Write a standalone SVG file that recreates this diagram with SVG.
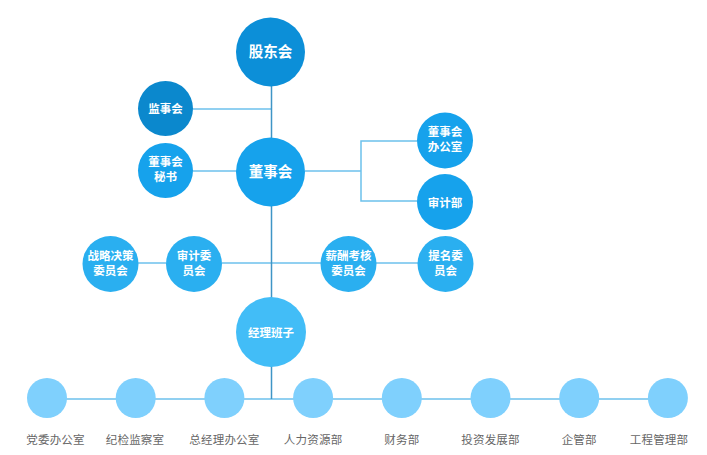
<svg xmlns="http://www.w3.org/2000/svg" width="707" height="455" viewBox="0 0 707 455">
<style>
.ln{stroke:#6cc1ec;stroke-width:1.5;fill:none}
.lm{stroke:#3f95c6;stroke-width:1.5;fill:none}
.t{font-family:"Noto Sans CJK SC","Noto Sans",sans-serif;fill:#fff;font-weight:bold;text-anchor:middle}
.t14{font-size:14.5px}
.t12{font-size:11.5px}
.lb{font-family:"Noto Sans CJK SC","Noto Sans",sans-serif;fill:#666;font-size:11.5px;text-anchor:middle;letter-spacing:0.2px}
.c0{fill:#0c8fd8}.c1{fill:#0b88cd}.c2{fill:#16a2ec}.c3{fill:#2aaff0}.c4{fill:#42bdf7}.c5{fill:#7fd0fd}
</style>
<rect width="707" height="455" fill="#fff"/>
<g id="connectors">
<line class="ln" x1="193" y1="109" x2="271" y2="109"/>
<line class="ln" x1="193" y1="171" x2="271" y2="171"/>
<polyline class="ln" points="305,171 361,171"/>
<polyline class="ln" points="417,141 361,141 361,201 417,201"/>
<line class="ln" x1="138" y1="263" x2="166" y2="263"/>
<line class="ln" x1="222" y1="263" x2="321" y2="263"/>
<line class="ln" x1="376" y1="263" x2="418" y2="263"/>
<line class="ln" x1="47" y1="399" x2="668" y2="399"/>
<line class="lm" x1="271.5" y1="86" x2="271.5" y2="399"/>
</g>
<g id="n-gudonghui"><circle class="c0" cx="270.5" cy="52" r="34.5"/><text class="t t14" x="270.5" y="57">股东会</text></g>
<g id="n-jianshihui"><circle class="c1" cx="165.5" cy="108.5" r="27.5"/><text class="t t12" x="165.5" y="113">监事会</text></g>
<g id="n-dongshihui"><circle class="c2" cx="270.5" cy="172" r="34.5"/><text class="t t14" x="270.5" y="177">董事会</text></g>
<g id="n-mishu"><circle class="c2" cx="165.5" cy="170.5" r="27.5"/><text class="t t12" x="165.5" y="166">董事会</text><text class="t t12" x="165.5" y="181">秘书</text></g>
<g id="n-bangongshi"><circle class="c2" cx="445" cy="140.5" r="28"/><text class="t t12" x="445" y="136">董事会</text><text class="t t12" x="445" y="151">办公室</text></g>
<g id="n-shenjibu"><circle class="c2" cx="445" cy="202" r="28"/><text class="t t12" x="445" y="206.5">审计部</text></g>
<g id="n-zhanlue"><circle class="c3" cx="110.5" cy="264" r="28"/><text class="t t12" x="110.5" y="259.5">战略决策</text><text class="t t12" x="110.5" y="274.5">委员会</text></g>
<g id="n-shenjiwei"><circle class="c3" cx="194" cy="264" r="28"/><text class="t t12" x="194" y="259.5">审计委</text><text class="t t12" x="194" y="274.5">员会</text></g>
<g id="n-xinchou"><circle class="c3" cx="348.5" cy="264" r="28"/><text class="t t12" x="348.5" y="259.5">薪酬考核</text><text class="t t12" x="348.5" y="274.5">委员会</text></g>
<g id="n-timing"><circle class="c3" cx="445.5" cy="264" r="28"/><text class="t t12" x="445.5" y="259.5">提名委</text><text class="t t12" x="445.5" y="274.5">员会</text></g>
<g id="n-jingli"><circle class="c4" cx="271" cy="332" r="35"/><text class="t t12" x="271" y="336.5">经理班子</text></g>
<g id="n-b1"><circle class="c5" cx="47" cy="398" r="20"/><text class="lb" x="55.5" y="444">党委办公室</text></g>
<g id="n-b2"><circle class="c5" cx="135.7" cy="398" r="20"/><text class="lb" x="135" y="444">纪检监察室</text></g>
<g id="n-b3"><circle class="c5" cx="224.4" cy="398" r="20"/><text class="lb" x="224.4" y="444">总经理办公室</text></g>
<g id="n-b4"><circle class="c5" cx="313.1" cy="398" r="20"/><text class="lb" x="313.1" y="444">人力资源部</text></g>
<g id="n-b5"><circle class="c5" cx="401.8" cy="398" r="20"/><text class="lb" x="401.8" y="444">财务部</text></g>
<g id="n-b6"><circle class="c5" cx="490.5" cy="398" r="20"/><text class="lb" x="490.5" y="444">投资发展部</text></g>
<g id="n-b7"><circle class="c5" cx="579.2" cy="398" r="20"/><text class="lb" x="579.2" y="444">企管部</text></g>
<g id="n-b8"><circle class="c5" cx="667.9" cy="398" r="20"/><text class="lb" x="659" y="444">工程管理部</text></g>
</svg>
